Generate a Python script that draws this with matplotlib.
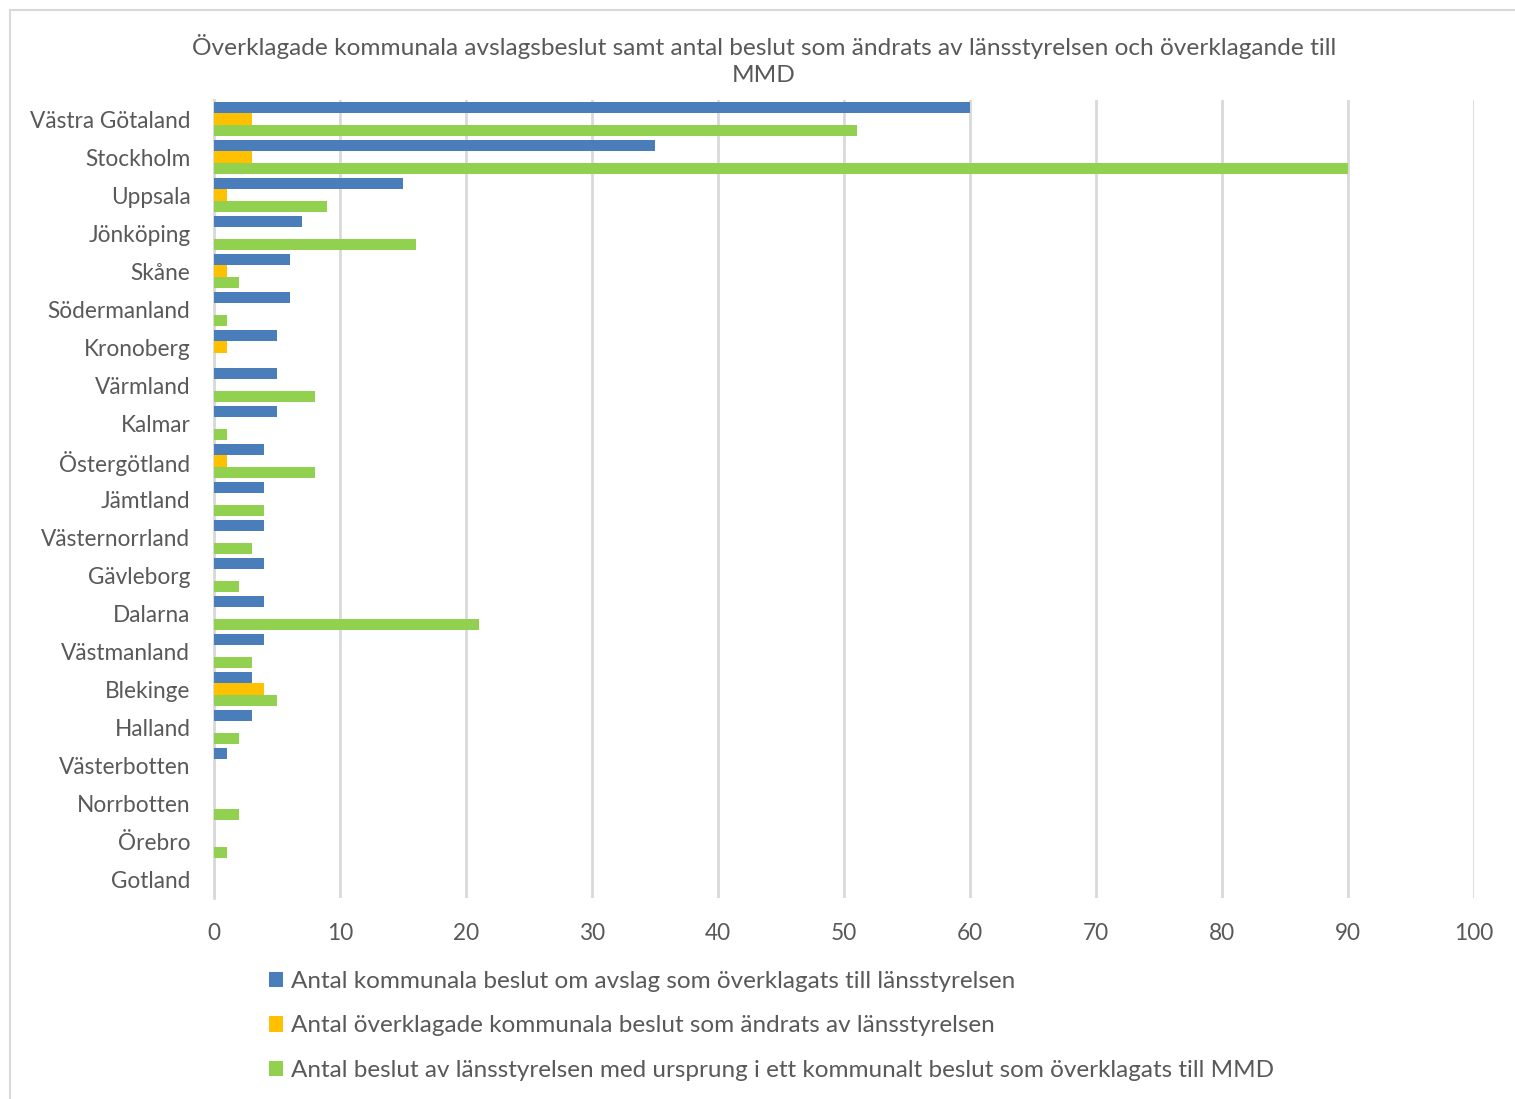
import matplotlib
matplotlib.use("Agg")
import matplotlib.pyplot as plt
from matplotlib.patches import Rectangle, Patch
import numpy as np

plt.rcParams['font.family'] = ['Lato', 'DejaVu Sans']

categories = ["Västra Götaland", "Stockholm", "Uppsala", "Jönköping", "Skåne",
              "Södermanland", "Kronoberg", "Värmland", "Kalmar", "Östergötland",
              "Jämtland", "Västernorrland", "Gävleborg", "Dalarna", "Västmanland",
              "Blekinge", "Halland", "Västerbotten", "Norrbotten", "Örebro", "Gotland"]
overklagade = [60, 35, 15, 7, 6, 6, 5, 5, 5, 4, 4, 4, 4, 4, 4, 3, 3, 1, 0, 0, 0]
andrade = [3, 3, 1, 0, 1, 0, 1, 0, 0, 1, 0, 0, 0, 0, 0, 4, 0, 0, 0, 0, 0]
mmd = [51, 90, 9, 16, 2, 1, 0, 8, 1, 8, 4, 3, 2, 21, 3, 5, 2, 0, 2, 1, 0]
series_labels = ["Antal kommunala beslut om avslag som överklagats till länsstyrelsen",
                 "Antal överklagade kommunala beslut som ändrats av länsstyrelsen",
                 "Antal beslut av länsstyrelsen med ursprung i ett kommunalt beslut som överklagats till MMD"]
title = "Överklagade kommunala avslagsbeslut samt antal beslut som ändrats av länsstyrelsen och överklagande till\nMMD"
xticks = [0, 10, 20, 30, 40, 50, 60, 70, 80, 90, 100]

colors = ["#4A7EBB", "#FFC000", "#92D050"]
txt = "#595959"

fig = plt.figure(figsize=(15.15, 10.99), dpi=100)
# chart border
fig.patches.append(Rectangle((10/1515, -0.01), 1.02, 1 - 10/1099 + 0.01, transform=fig.transFigure,
                             fill=False, edgecolor="#d9d9d9", linewidth=1.5))

ax = fig.add_axes([214/1515, 1 - 898/1099, (1474-214)/1515, (898-100)/1099])
y = np.arange(len(categories))
h = 0.29
for i, (vals, c) in enumerate(zip([overklagade, andrade, mmd], colors)):
    ax.barh(y + (i - 1) * h, vals, height=h, color=c, label=series_labels[i], zorder=3)

ax.set_ylim(len(categories) - 0.5, -0.5)
ax.set_xlim(0, 100)
ax.set_xticks(xticks)
ax.set_yticks(y)
ax.set_yticklabels(categories)
ax.tick_params(axis='both', length=0, labelsize=16.3, colors=txt)
ax.tick_params(axis='x', pad=18)
ax.tick_params(axis='y', pad=17)
ax.grid(axis='x', color="#d9d9d9", linewidth=2, zorder=0)
for s in ["top", "right", "bottom"]:
    ax.spines[s].set_visible(False)
ax.spines["left"].set_color("#d9d9d9")
ax.spines["left"].set_linewidth(2)

fig.text(764/1515, 1 - 60/1099, title, ha="center", va="center", fontsize=17.6,
         color=txt, linespacing=1.4)

handles = [Patch(facecolor=c) for c in colors]
fig.legend(handles, series_labels, loc="upper left", bbox_to_anchor=(257/1515, 1 - 959/1099),
           frameon=False, fontsize=17.5, labelcolor=txt, handlelength=0.55, handleheight=0.6,
           handletextpad=0.35, labelspacing=0.96, borderpad=0)

fig.savefig("out.png", dpi=100)
